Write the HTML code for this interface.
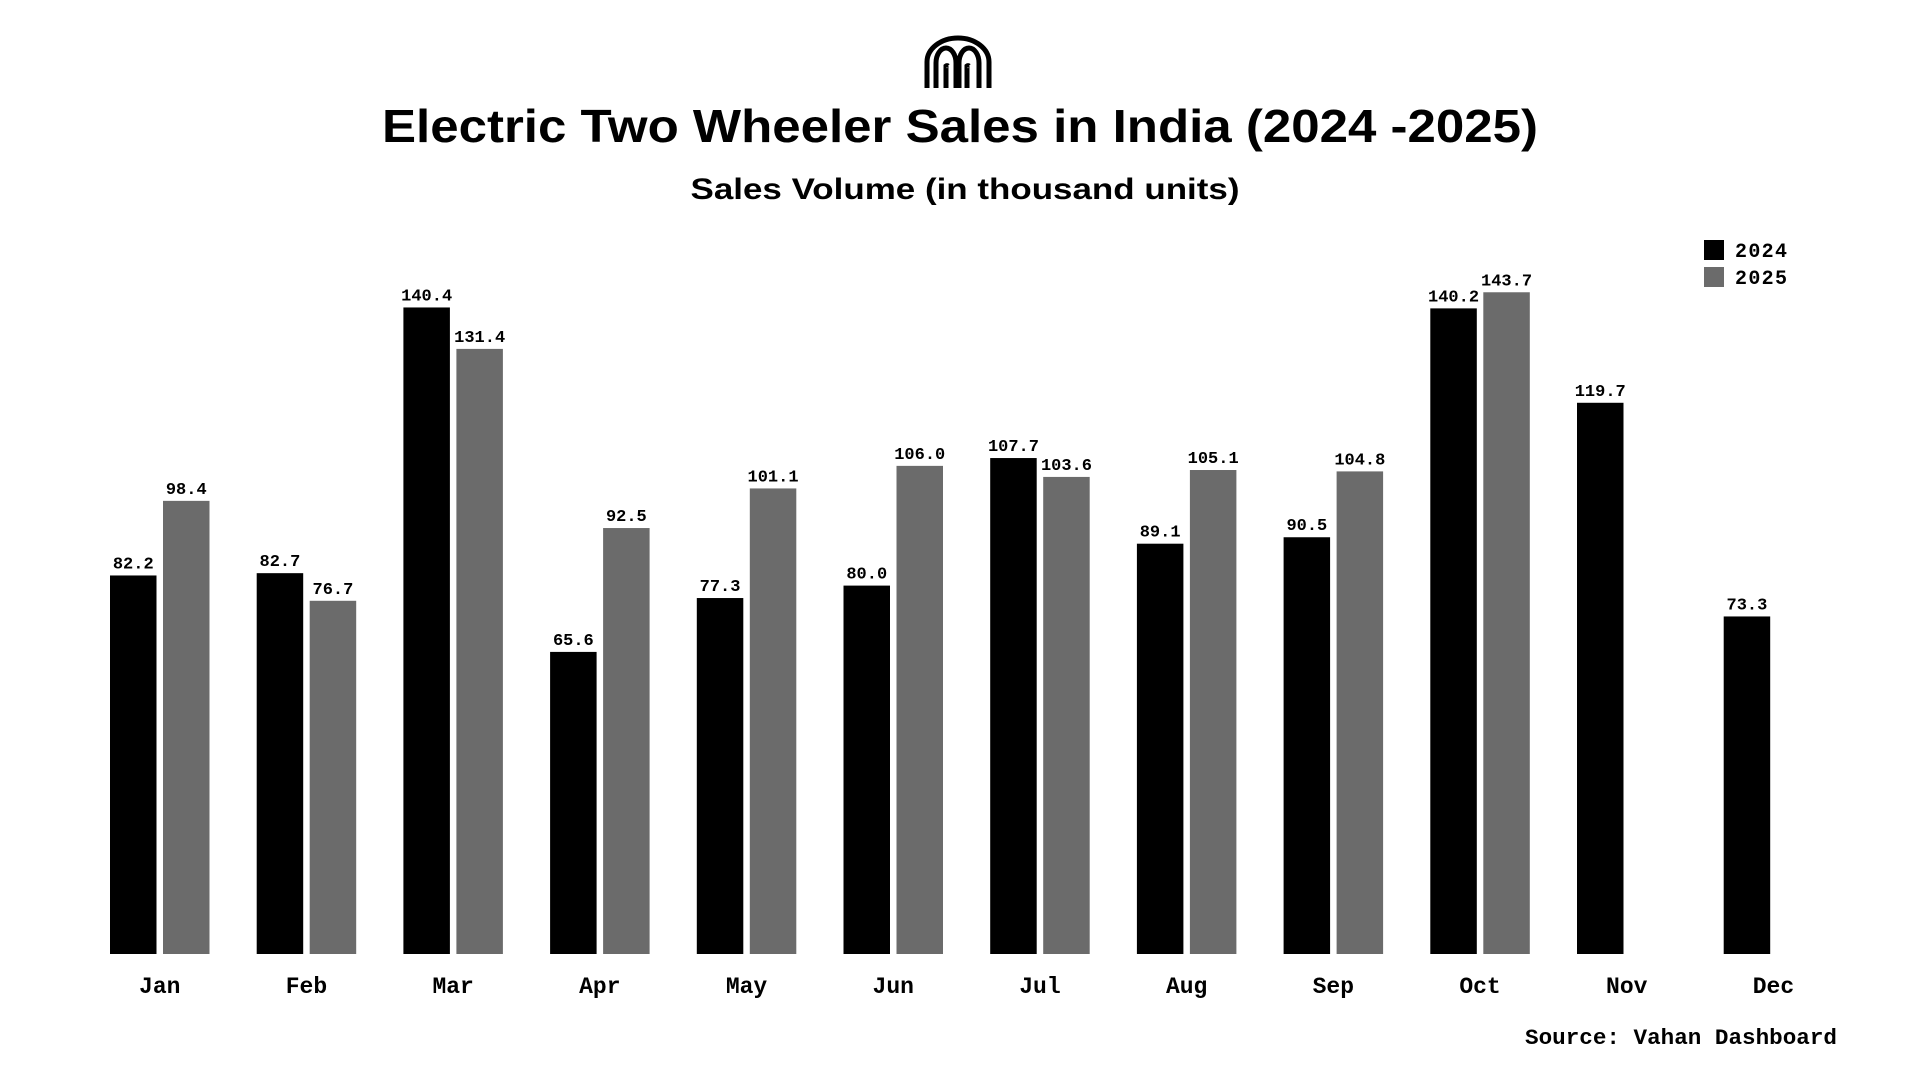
<!DOCTYPE html>
<html><head><meta charset="utf-8"><style>
html,body{margin:0;padding:0;background:#fff;}
svg{display:block;}
</style></head><body>
<svg id="chart" width="1920" height="1080" viewBox="0 0 1920 1080">
<g fill="none" stroke="#000" stroke-width="5">
<path d="M927 88 V62 A31 24 0 0 1 958 38 A31 24 0 0 1 989 62 V88"/>
<path d="M936 88 V63 A10 15 0 0 1 956 63 V88 M959 88 V63 A10 15 0 0 1 979 63 V88"/>
<path d="M946 88 V66 A2 3 0 0 1 948 66 M967 88 V66 A2 3 0 0 1 969 66"/>
</g>
<text x="960" y="142" text-anchor="middle" font-family="Liberation Sans, sans-serif" font-weight="bold" font-size="46" textLength="1156" lengthAdjust="spacingAndGlyphs">Electric Two Wheeler Sales in India (2024 -2025)</text>
<text x="965" y="199" text-anchor="middle" font-family="Liberation Sans, sans-serif" font-weight="bold" font-size="30" textLength="549" lengthAdjust="spacingAndGlyphs">Sales Volume (in thousand units)</text>
<g font-family="Liberation Mono, monospace" font-weight="bold" font-size="20">
<rect x="1704" y="240" width="20" height="20" fill="#000"/>
<text x="1735" y="257" textLength="52">2024</text>
<rect x="1704" y="267" width="20" height="20" fill="#6b6b6b"/>
<text x="1735" y="284" textLength="52">2025</text>
</g>
<g id="bars"></g>
<text x="1837" y="1044" text-anchor="end" font-family="Liberation Mono, monospace" font-weight="bold" font-size="22" textLength="312" lengthAdjust="spacingAndGlyphs">Source: Vahan Dashboard</text>
</svg>
<script>
const months = ["Jan","Feb","Mar","Apr","May","Jun","Jul","Aug","Sep","Oct","Nov","Dec"];
const sales2024 = [82.2,82.7,140.4,65.6,77.3,80.0,107.7,89.1,90.5,140.2,119.7,73.3];
const sales2025 = [98.4,76.7,131.4,92.5,101.1,106.0,103.6,105.1,104.8,143.7,null,null];

const NS="http://www.w3.org/2000/svg";
const g=document.getElementById('bars');
const baseY=954, pxPerUnit=4.605, x0=110, groupW=146.7, barW=46.5, gap=6.5;
function yScale(v){return baseY - v*pxPerUnit;}
function xBar(i,s){return x0 + i*groupW + s*(barW+gap);}
function mk(tag,attrs){const e=document.createElementNS(NS,tag);for(const k in attrs)e.setAttribute(k,attrs[k]);return e;}
function addBar(i,s,v,color,series){
  const y=yScale(v), x=xBar(i,s);
  const r=mk('rect',{x:x,y:y,width:barW,height:baseY-y,fill:color});
  
  
  g.appendChild(r);
  const t=mk('text',{x:x+barW/2,y:y-7,'text-anchor':'middle','font-family':'Liberation Mono, monospace','font-weight':'bold','font-size':'17'});
  t.textContent=v.toFixed(1);
  
  
  g.appendChild(t);
}
months.forEach((m,i)=>{
  addBar(i,0,sales2024[i],'#000','2024');
  if(sales2025[i]!=null) addBar(i,1,sales2025[i],'#6b6b6b','2025');
  const t=mk('text',{x:x0+i*groupW+(2*barW+gap)/2,y:993,'text-anchor':'middle','font-family':'Liberation Mono, monospace','font-weight':'bold','font-size':'23'});
  t.textContent=m;
  
  
  g.appendChild(t);
});
</script>
</body></html>
